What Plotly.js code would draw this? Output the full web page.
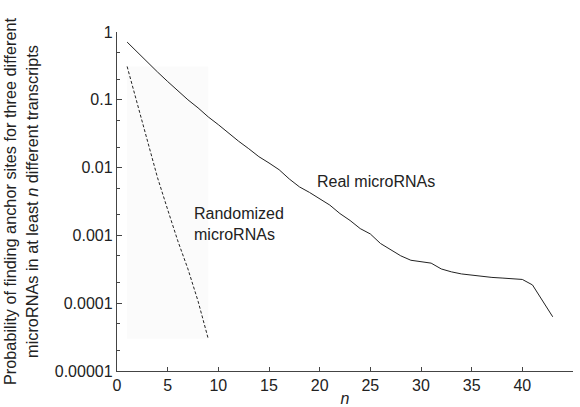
<!DOCTYPE html>
<html>
<head>
<meta charset="utf-8">
<script src="https://cdn.plot.ly/plotly-3.0.1.min.js"></script>
<style>
html,body{margin:0;padding:0;background:#fff;}
#chart{width:580px;height:407px;}
</style>
</head>
<body>
<div id="chart"></div>
<script>
// Real microRNAs: n = 1..43
var realN = [];
for (var i = 1; i <= 43; i++) realN.push(i);
var realP = [0.71, 0.50, 0.355, 0.257, 0.186, 0.135, 0.100, 0.076, 0.056, 0.043,
             0.032, 0.0245, 0.019, 0.0145, 0.0117, 0.0093, 0.0068, 0.0052, 0.0043, 0.0035,
             0.0028, 0.0021, 0.00166, 0.00126, 0.00105, 0.00076, 0.00062, 0.0005, 0.00043, 0.00041,
             0.00039, 0.00032, 0.00029, 0.00027, 0.00026, 0.000245, 0.00024, 0.000235, 0.00023, 0.000224,
             0.000186, 0.000107, 0.000063];

// Randomized microRNAs: n = 1..9
var randN = [1, 2, 3, 4, 5, 6, 7, 8, 9];
var randP = [0.31, 0.089, 0.025, 0.0071, 0.0024, 0.00083, 0.00032, 0.000107, 0.00003];

var yTickVals = [1, 0.1, 0.01, 0.001, 0.0001, 0.00001];
var yTickText = ['1', '0.1', '0.01', '0.001', '0.0001', '0.00001'];
var yMinorVals = [0.5, 0.2, 0.05, 0.02, 0.005, 0.002, 0.0005, 0.0002, 0.00005, 0.00002];
var xTickVals = [0, 5, 10, 15, 20, 25, 30, 35, 40, 45];

var font = "'Liberation Sans', Arial, Helvetica, sans-serif";

var traces = [
  {x: realN, y: realP, mode: 'lines', type: 'scatter',
   line: {color: '#222', width: 1}, hoverinfo: 'skip'},
  {x: randN, y: randP, mode: 'lines', type: 'scatter',
   line: {color: '#222', width: 1, dash: '3px,2px'}, hoverinfo: 'skip'}
];

var layout = {
  width: 580, height: 407,
  margin: {l: 117, r: 7, t: 32, b: 36},
  paper_bgcolor: '#fff', plot_bgcolor: '#fff',
  showlegend: false,
  font: {family: font, size: 16, color: '#222'},
  xaxis: {
    range: [0, 45], tickmode: 'array', tickvals: xTickVals,
    ticks: 'inside', ticklen: 4, tickwidth: 1, tickcolor: '#444',
    showline: true, linecolor: '#444', linewidth: 1.2,
    showgrid: false, zeroline: false, mirror: false,
    tickfont: {family: font, size: 16, color: '#222'},
    title: {text: '<i>n</i>', font: {family: font, size: 16, color: '#222'}, standoff: 11}
  },
  yaxis: {
    type: 'log', range: [-5, 0], tickmode: 'array',
    tickvals: yTickVals, ticktext: yTickText,
    ticks: 'inside', ticklen: 5, tickwidth: 1, tickcolor: '#444',
    minor: {tickmode: 'array', tickvals: yMinorVals, ticks: 'inside', ticklen: 3, tickcolor: '#444', showgrid: false},
    showline: true, linecolor: '#444', linewidth: 1.2,
    showgrid: false, zeroline: false, mirror: false,
    tickfont: {family: font, size: 16, color: '#222'},
    title: {text: 'Probability of finding anchor sites for three different<br>microRNAs in at least <i>n</i> different transcripts',
            font: {family: font, size: 16.3, color: '#222'}, standoff: 12}
  },
  shapes: [{
    type: 'rect', xref: 'x', yref: 'y', layer: 'below',
    x0: Math.min.apply(null, randN), x1: Math.max.apply(null, randN),
    y0: Math.min.apply(null, randP), y1: Math.max.apply(null, randP),
    fillcolor: '#fbfbfb', line: {width: 0}
  }],
  annotations: [
    {x: 19.5, y: -2.21, xref: 'x', yref: 'y', text: 'Real microRNAs',
     showarrow: false, xanchor: 'left', yanchor: 'middle', font: {family: font, size: 16, color: '#222'}},
    {x: 7.4, y: -2.83, xref: 'x', yref: 'y', text: 'Randomized<br>microRNAs',
     showarrow: false, xanchor: 'left', yanchor: 'middle', align: 'left', font: {family: font, size: 16, color: '#222'}}
  ]
};

Plotly.newPlot('chart', traces, layout, {displayModeBar: false, staticPlot: true});
</script>
</body>
</html>
